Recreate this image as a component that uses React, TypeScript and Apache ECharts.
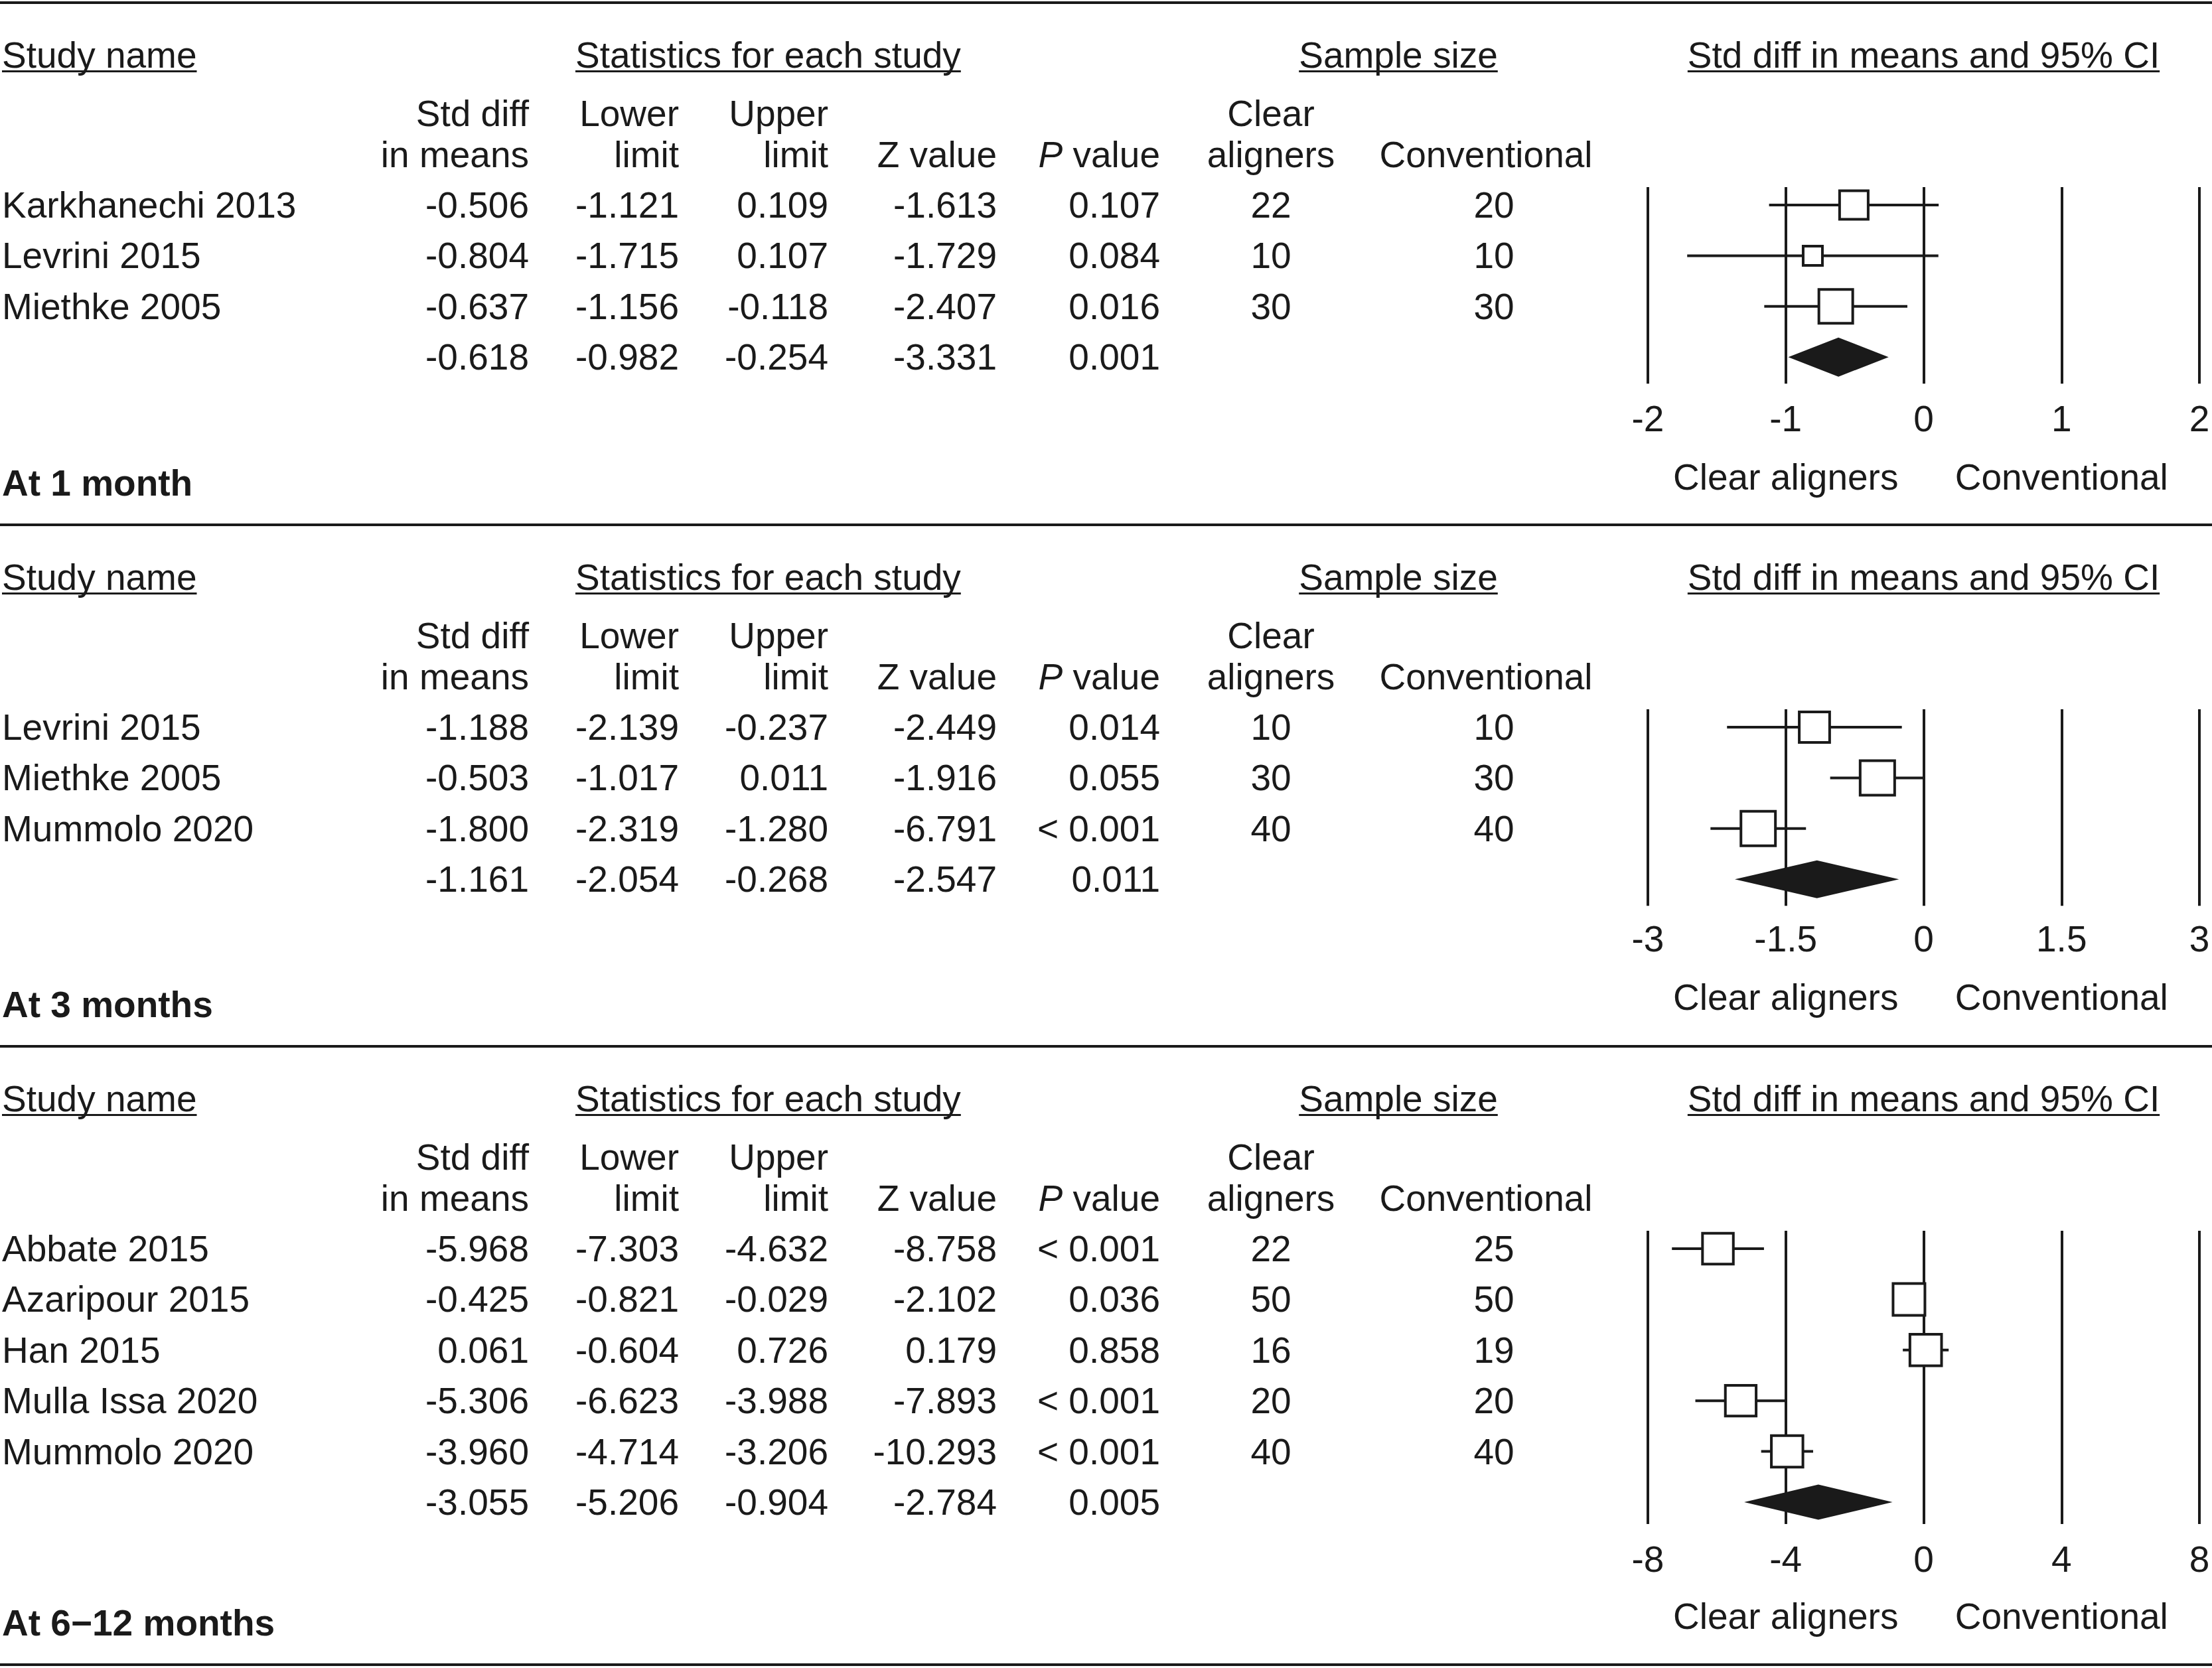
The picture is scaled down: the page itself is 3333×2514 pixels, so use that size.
import React, { useEffect, useRef } from "react";
import * as echarts from "echarts";

// ---------------- Data ----------------
const sectionTitles = ["At 1 month", "At 3 months", "At 6\u221212 months"];

// At 1 month
const m1Studies = ["Karkhanechi 2013", "Levrini 2015", "Miethke 2005"];
const m1Std = [-0.506, -0.804, -0.637];
const m1Lower = [-1.121, -1.715, -1.156];
const m1Upper = [0.109, 0.107, -0.118];
const m1Z = [-1.613, -1.729, -2.407];
const m1P = ["0.107", "0.084", "0.016"];
const m1Clear = [22, 10, 30];
const m1Conv = [20, 10, 30];
const m1Weight = [35.0, 15.9, 49.1];
const m1Pooled = [-0.618, -0.982, -0.254, -3.331];
const m1PooledP = "0.001";

// At 3 months
const m3Studies = ["Levrini 2015", "Miethke 2005", "Mummolo 2020"];
const m3Std = [-1.188, -0.503, -1.8];
const m3Lower = [-2.139, -1.017, -2.319];
const m3Upper = [-0.237, 0.011, -1.28];
const m3Z = [-2.449, -1.916, -6.791];
const m3P = ["0.014", "0.055", "< 0.001"];
const m3Clear = [10, 30, 40];
const m3Conv = [10, 30, 40];
const m3Weight = [28.0, 36.1, 36.0];
const m3Pooled = [-1.161, -2.054, -0.268, -2.547];
const m3PooledP = "0.011";

// At 6-12 months
const m6Studies = ["Abbate 2015", "Azaripour 2015", "Han 2015", "Mulla Issa 2020", "Mummolo 2020"];
const m6Std = [-5.968, -0.425, 0.061, -5.306, -3.96];
const m6Lower = [-7.303, -0.821, -0.604, -6.623, -4.714];
const m6Upper = [-4.632, -0.029, 0.726, -3.988, -3.206];
const m6Z = [-8.758, -2.102, 0.179, -7.893, -10.293];
const m6P = ["< 0.001", "0.036", "0.858", "< 0.001", "< 0.001"];
const m6Clear = [22, 50, 16, 20, 40];
const m6Conv = [25, 50, 19, 20, 40];
const m6Weight = [19.3, 20.6, 20.3, 19.2, 20.2];
const m6Pooled = [-3.055, -5.206, -0.904, -2.784];
const m6PooledP = "0.005";

// Axis ranges (min, max, interval)
const axisMin = [-2, -3, -8];
const axisMax = [2, 3, 8];
const axisStep = [1, 1.5, 4];

// Header texts
const groupHeaders = ["Study name", "Statistics for each study", "Sample size", "Std diff in means and 95% CI"];
const colHeadTop = ["Std diff", "Lower", "Upper", "", "", "Clear", ""];
const colHeadBottom = ["in means", "limit", "limit", "Z value", "P value", "aligners", "Conventional"];
const sideLabels = ["Clear aligners", "Conventional"];

const sections = [
  { studies: m1Studies, std: m1Std, lower: m1Lower, upper: m1Upper, z: m1Z, p: m1P, clear: m1Clear, conv: m1Conv, weight: m1Weight, pooled: m1Pooled, pooledP: m1PooledP },
  { studies: m3Studies, std: m3Std, lower: m3Lower, upper: m3Upper, z: m3Z, p: m3P, clear: m3Clear, conv: m3Conv, weight: m3Weight, pooled: m3Pooled, pooledP: m3PooledP },
  { studies: m6Studies, std: m6Std, lower: m6Lower, upper: m6Upper, z: m6Z, p: m6P, clear: m6Clear, conv: m6Conv, weight: m6Weight, pooled: m6Pooled, pooledP: m6PooledP },
];

// ---------------- Layout / style ----------------
const W = 3333;
const H = 2514;
const INK = "#1a1a1a";
const FAMILY = "Liberation Sans, Arial, Helvetica, sans-serif";
const FS = 55;
const RULE_Y = [4, 791, 1577, 2509];
const ROW_STEP = 76.4;
const ROW_OFFSET = 305;
const PLOT_LEFT = 2483;
const PLOT_RIGHT = 3314;
const COLS = { name: 3, std: 797, lower: 1023, upper: 1248, z: 1502, p: 1748, clear: 1915, convHead: 2239, conv: 2251 };
const HEAD_X = { name: 3, stats: 867, sample: 2107, ci: (PLOT_LEFT + PLOT_RIGHT) / 2 };
const SEC_STYLE = [
  { padTop: 27, padBottom: 40, labelMargin: 25, sideGap: 88, maxBox: 55, diamondHalf: 29.5 },
  { padTop: 27, padBottom: 40, labelMargin: 22, sideGap: 88, maxBox: 56, diamondHalf: 28.5 },
  { padTop: 27, padBottom: 33, labelMargin: 25, sideGap: 86, maxBox: 52, diamondHalf: 26.5 },
];

const fmt = (v: number) => v.toFixed(3);

function measure(text: string, weight = "normal"): number {
  const c = document.createElement("canvas");
  const ctx = c.getContext("2d");
  if (!ctx) return text.length * FS * 0.5;
  ctx.font = `${weight} ${FS}px "Liberation Sans", Arial, sans-serif`;
  return ctx.measureText(text).width;
}

function txt(text: string, x: number, y: number, align: string, extra: any = {}) {
  return {
    type: "text",
    x,
    y,
    silent: true,
    style: {
      text,
      fill: INK,
      fontSize: FS,
      fontFamily: FAMILY,
      align,
      verticalAlign: "middle",
      ...extra,
    },
  };
}

function hline(x1: number, x2: number, y: number, w: number) {
  return { type: "line", silent: true, shape: { x1, y1: y, x2, y2: y }, style: { stroke: INK, lineWidth: w } };
}

function buildOption() {
  const graphics: any[] = [];
  const grids: any[] = [];
  const xAxes: any[] = [];
  const yAxes: any[] = [];
  const series: any[] = [];

  RULE_Y.forEach((y) => graphics.push(hline(0, W, y, 4)));

  sections.forEach((sec, s) => {
    const T = RULE_Y[s];
    const next = RULE_Y[s + 1];
    const st = SEC_STYLE[s];
    const n = sec.studies.length;
    const rowY = (i: number) => T + ROW_OFFSET + i * ROW_STEP;

    // Group headers (underlined)
    const gy = T + 78.5;
    const uy = T + 103.5;
    const wName = measure(groupHeaders[0]);
    graphics.push(txt(groupHeaders[0], HEAD_X.name, gy, "left"));
    graphics.push(hline(HEAD_X.name, HEAD_X.name + wName, uy, 3));
    const wStats = measure(groupHeaders[1]);
    graphics.push(txt(groupHeaders[1], HEAD_X.stats, gy, "left"));
    graphics.push(hline(HEAD_X.stats, HEAD_X.stats + wStats, uy, 3));
    const wSample = measure(groupHeaders[2]);
    graphics.push(txt(groupHeaders[2], HEAD_X.sample, gy, "center"));
    graphics.push(hline(HEAD_X.sample - wSample / 2, HEAD_X.sample + wSample / 2, uy, 3));
    const wCi = measure(groupHeaders[3]);
    graphics.push(txt(groupHeaders[3], HEAD_X.ci, gy, "center"));
    graphics.push(hline(HEAD_X.ci - wCi / 2, HEAD_X.ci + wCi / 2, uy, 3));

    // Column headers
    const h1 = T + 167;
    const h2 = T + 229;
    const colX = [COLS.std, COLS.lower, COLS.upper, COLS.z, COLS.p, COLS.clear, COLS.convHead];
    const colAlign = ["right", "right", "right", "right", "right", "center", "center"];
    colX.forEach((x, k) => {
      if (colHeadTop[k]) graphics.push(txt(colHeadTop[k], x, h1, colAlign[k]));
      if (k === 4) {
        const parts = colHeadBottom[k].split(" ");
        graphics.push({
          type: "text",
          x,
          y: h2,
          silent: true,
          style: {
            text: `{i|${parts[0]}}{n| ${parts.slice(1).join(" ")}}`,
            align: "right",
            verticalAlign: "middle",
            fill: INK,
            fontSize: FS,
            fontFamily: FAMILY,
            rich: {
              i: { fontSize: FS, fontFamily: FAMILY, fontStyle: "italic", fill: INK },
              n: { fontSize: FS, fontFamily: FAMILY, fontStyle: "normal", fill: INK },
            },
          },
        });
      } else {
        graphics.push(txt(colHeadBottom[k], x, h2, colAlign[k]));
      }
    });

    // Study rows
    sec.studies.forEach((name, i) => {
      const y = rowY(i);
      graphics.push(txt(name, COLS.name, y, "left"));
      graphics.push(txt(fmt(sec.std[i]), COLS.std, y, "right"));
      graphics.push(txt(fmt(sec.lower[i]), COLS.lower, y, "right"));
      graphics.push(txt(fmt(sec.upper[i]), COLS.upper, y, "right"));
      graphics.push(txt(fmt(sec.z[i]), COLS.z, y, "right"));
      graphics.push(txt(sec.p[i], COLS.p, y, "right"));
      graphics.push(txt(String(sec.clear[i]), COLS.clear, y, "center"));
      graphics.push(txt(String(sec.conv[i]), COLS.conv, y, "center"));
    });
    // Pooled row
    const py = rowY(n);
    graphics.push(txt(fmt(sec.pooled[0]), COLS.std, py, "right"));
    graphics.push(txt(fmt(sec.pooled[1]), COLS.lower, py, "right"));
    graphics.push(txt(fmt(sec.pooled[2]), COLS.upper, py, "right"));
    graphics.push(txt(fmt(sec.pooled[3]), COLS.z, py, "right"));
    graphics.push(txt(sec.pooledP, COLS.p, py, "right"));

    // Section footer
    graphics.push(txt(sectionTitles[s], COLS.name, next - 63, "left", { fontWeight: "bold" }));

    // Grid / axes for the forest plot
    const gTop = rowY(0) - st.padTop;
    const gH = n * ROW_STEP + st.padTop + st.padBottom;
    grids.push({ left: PLOT_LEFT, width: PLOT_RIGHT - PLOT_LEFT, top: gTop, height: gH, containLabel: false });

    const half = axisStep[s];
    xAxes.push({
      type: "value",
      gridIndex: s,
      position: "bottom",
      min: axisMin[s],
      max: axisMax[s],
      interval: axisStep[s],
      axisLine: { show: false },
      axisTick: { show: false },
      splitLine: { show: true, lineStyle: { color: INK, width: 4 } },
      axisLabel: { color: INK, fontSize: FS, fontFamily: FAMILY, lineHeight: FS, margin: st.labelMargin },
    });
    xAxes.push({
      type: "value",
      gridIndex: s,
      position: "bottom",
      min: axisMin[s],
      max: axisMax[s],
      interval: axisStep[s],
      axisLine: { show: false },
      axisTick: { show: false },
      splitLine: { show: false },
      axisLabel: {
        color: INK,
        fontSize: FS,
        fontFamily: FAMILY,
        lineHeight: FS,
        margin: st.labelMargin + st.sideGap,
        formatter: (v: number) =>
          Math.abs(v + half) < 1e-9 ? sideLabels[0] : Math.abs(v - half) < 1e-9 ? sideLabels[1] : "",
      },
    });
    yAxes.push({
      type: "value",
      gridIndex: s,
      inverse: true,
      min: -st.padTop / ROW_STEP,
      max: n + st.padBottom / ROW_STEP,
      show: false,
      splitLine: { show: false },
    });

    const wMax = Math.max(...sec.weight);
    const data: number[][] = sec.studies.map((_, i) => [i, sec.std[i], sec.lower[i], sec.upper[i], sec.weight[i], 0]);
    data.push([n, sec.pooled[0], sec.pooled[1], sec.pooled[2], 0, 1]);

    series.push({
      type: "custom",
      xAxisIndex: s * 2,
      yAxisIndex: s,
      silent: true,
      encode: { x: [1, 2, 3], y: 0 },
      data,
      renderItem: (params: any, api: any) => {
        const row = api.value(0);
        const est = api.value(1);
        const lo = api.value(2);
        const hi = api.value(3);
        const w = api.value(4);
        const pooled = api.value(5);
        const c = api.coord([est, row]);
        const l = api.coord([lo, row]);
        const h = api.coord([hi, row]);
        if (pooled) {
          const dh = st.diamondHalf;
          return {
            type: "polygon",
            shape: { points: [[l[0], c[1]], [c[0], c[1] - dh], [h[0], c[1]], [c[0], c[1] + dh]] },
            style: { fill: INK },
          };
        }
        const side = (st.maxBox - 4) * Math.sqrt(w / wMax);
        return {
          type: "group",
          children: [
            { type: "line", shape: { x1: l[0], y1: c[1], x2: h[0], y2: c[1] }, style: { stroke: INK, lineWidth: 4 } },
            {
              type: "rect",
              shape: { x: c[0] - side / 2, y: c[1] - side / 2, width: side, height: side },
              style: { fill: "#ffffff", stroke: INK, lineWidth: 4 },
            },
          ],
        };
      },
    });
  });

  return {
    animation: false,
    backgroundColor: "#ffffff",
    grid: grids,
    xAxis: xAxes,
    yAxis: yAxes,
    series,
    graphic: { elements: graphics },
  };
}

export default function App() {
  const ref = useRef<HTMLDivElement>(null);
  useEffect(() => {
    if (!ref.current) return;
    const chart = echarts.init(ref.current, undefined, { renderer: "svg", width: W, height: H });
    chart.setOption(buildOption() as any);
    return () => chart.dispose();
  }, []);
  return (
    <div
      ref={ref}
      style={{ position: "absolute", left: 0, top: 0, width: W, height: H, background: "#ffffff" }}
    />
  );
}
